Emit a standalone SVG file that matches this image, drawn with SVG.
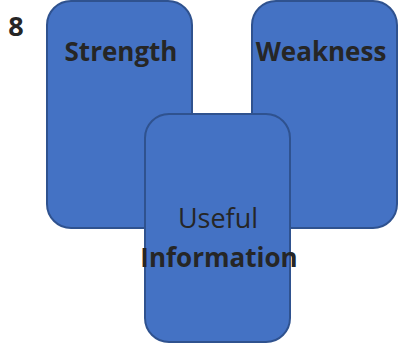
<svg xmlns="http://www.w3.org/2000/svg" width="404" height="347" viewBox="0 0 404 347">
<style>
.box{fill:#4472C4;stroke:#2F528F;stroke-width:2}
.t{font-family:"Open Sans","Liberation Sans",sans-serif;fill:#262626;text-anchor:middle;font-size:26px}
.b{font-weight:bold}
</style>
<rect width="404" height="347" fill="#ffffff"/>
<text class="t b" x="16" y="36" style="font-size:27px">8</text>
<g id="strength">
<rect class="box" x="47" y="1" width="145" height="227" rx="24" ry="24"/>
<text class="t b" x="121" y="61">Strength</text>
</g>
<g id="weakness">
<rect class="box" x="252" y="1" width="145" height="227" rx="24" ry="24"/>
<text class="t b" x="321" y="61">Weakness</text>
</g>
<g id="useful">
<rect class="box" x="145" y="114" width="145" height="228" rx="24" ry="24"/>
<text class="t" x="218" y="228" style="font-size:27px">Useful</text>
<text class="t b" x="219" y="267">Information</text>
</g>
<g id="connectors"/>
</svg>
